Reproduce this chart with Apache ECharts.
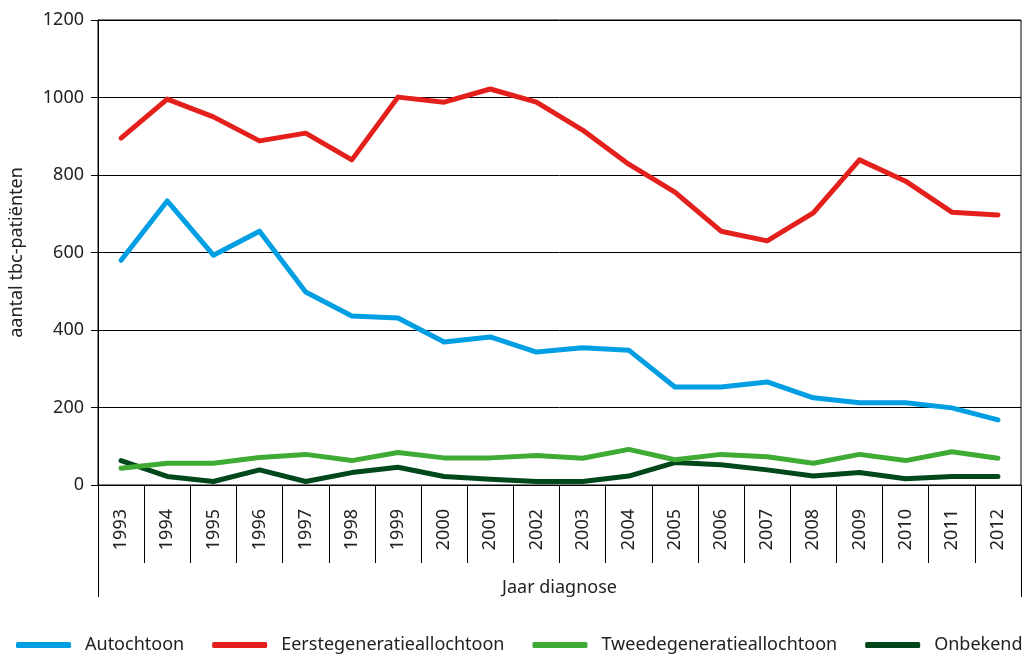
<!DOCTYPE html>
<html><head><meta charset="utf-8">
<script src="https://cdn.jsdelivr.net/npm/echarts@6/dist/echarts.min.js"></script>
<style>html,body{margin:0;padding:0;background:#fff}#c{width:1026px;height:654px}</style>
</head><body><div id="c"></div>
<script>
var years = ['1993','1994','1995','1996','1997','1998','1999','2000','2001','2002','2003','2004','2005','2006','2007','2008','2009','2010','2011','2012'];
var autochtoon = [580,733,593,655,498,436,431,369,382,343,354,348,253,253,266,225,212,212,199,168];
var eerstegeneratie = [895,996,950,888,908,839,1001,988,1022,988,916,828,756,655,630,702,839,784,704,697];
var tweedegeneratie = [43,56,56,71,79,63,84,70,70,76,69,92,65,79,73,56,79,63,86,69];
var onbekend = [63,22,9,39,9,32,46,22,15,9,9,23,58,52,39,23,32,16,22,22];
var yTicks = {min:0, max:1200, interval:200};
var names = ['Autochtoon','Eerstegeneratieallochtoon','Tweedegeneratieallochtoon','Onbekend'];
var colors = ['#009fe3','#e3201b','#3fab35','#00471b'];
var seriesData = [autochtoon, eerstegeneratie, tweedegeneratie, onbekend];

var font = 'Noto Sans';
var fs = 18;
var chart = echarts.init(document.getElementById('c'));
chart.setOption({
  animation:false,
  textStyle:{fontFamily:font},
  color: colors,
  grid:{left:95,right:5,top:20,bottom:169,show:true,borderColor:'#000',borderWidth:1},
  legend:{
    top:636, left:16, padding:0, icon:'roundRect', itemWidth:55, itemHeight:6, itemGap:28,
    textStyle:{fontFamily:font,fontSize:fs,color:'#222',padding:[0,0,0,9]},
    data:names
  },
  xAxis:[{
    type:'category', data:years, boundaryGap:true,
    axisLine:{show:true,lineStyle:{color:'#000',width:1}},
    axisTick:{show:true,interval:0,length:78,lineStyle:{color:'#000'}},
    axisLabel:{interval:0,rotate:90,margin:24,fontSize:fs,color:'#222',fontFamily:font},
    name:'Jaar diagnose', nameLocation:'middle', nameGap:94,
    nameTextStyle:{fontSize:fs,color:'#222',fontFamily:font}
  },{
    type:'value', min:0, max:1, interval:1, position:'bottom',
    axisLine:{show:false}, axisLabel:{show:false}, splitLine:{show:false},
    axisTick:{show:true,length:112,lineStyle:{color:'#000'}}
  }],
  yAxis:{
    type:'value', min:yTicks.min, max:yTicks.max, interval:yTicks.interval,
    axisLine:{show:true,lineStyle:{color:'#000'}},
    axisTick:{show:true,length:7,lineStyle:{color:'#000'}},
    splitLine:{show:true,lineStyle:{color:'#000',width:1}},
    axisLabel:{fontSize:fs,color:'#222',margin:14,fontFamily:font,formatter:function(v){return String(v);}},
    name:'aantal tbc-patiënten', nameLocation:'middle', nameGap:72, nameRotate:90,
    nameTextStyle:{fontSize:fs,color:'#222',fontFamily:font}
  },
  series: names.map(function(n,i){
    return {name:n,type:'line',data:seriesData[i],symbol:'none',showSymbol:false,
      lineStyle:{width:5,color:colors[i],cap:'round',join:'round'},
      itemStyle:{color:colors[i]}, z:4-i};
  })
});
</script></body></html>
